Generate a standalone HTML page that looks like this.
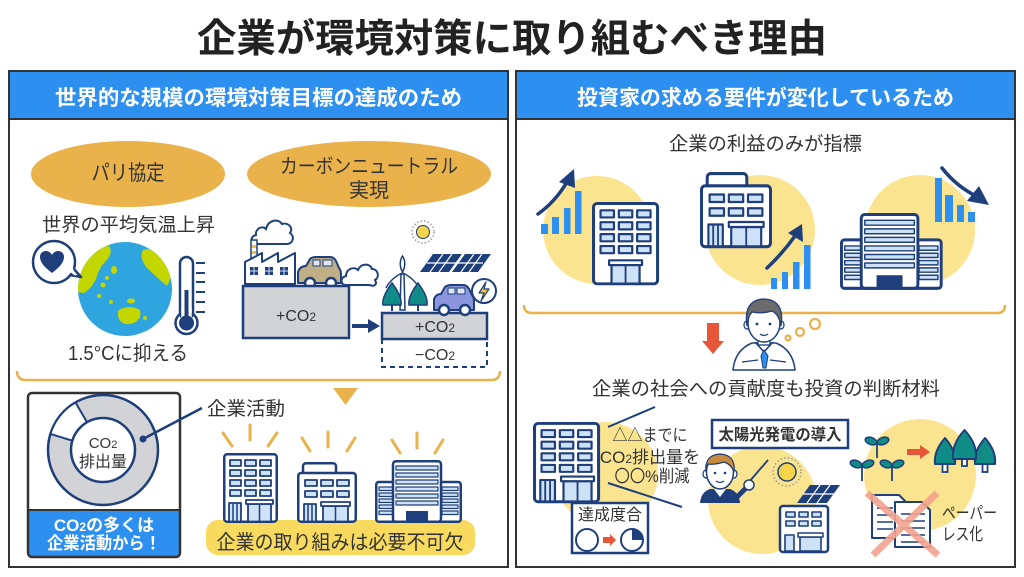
<!DOCTYPE html>
<html><head><meta charset="utf-8">
<style>
html,body{margin:0;padding:0;background:#fff;}
svg{display:block;font-family:"Liberation Sans","Noto Sans CJK JP",sans-serif;}
</style></head><body>
<svg width="1024" height="577" viewBox="0 0 1024 577" xmlns="http://www.w3.org/2000/svg">
<defs>
 <g id="bA" stroke="#1e3f7b" stroke-linejoin="round">
  <rect x="1.25" y="1.25" width="52.5" height="67.5" rx="3" fill="#fff" stroke-width="2.5"/>
  <g fill="#cde1f7" stroke-width="1.8">
   <rect x="7" y="7" width="11" height="6"/><rect x="22" y="7" width="11" height="6"/><rect x="37" y="7" width="11" height="6"/>
   <rect x="7" y="17" width="11" height="6"/><rect x="22" y="17" width="11" height="6"/><rect x="37" y="17" width="11" height="6"/>
   <rect x="7" y="27" width="11" height="6"/><rect x="22" y="27" width="11" height="6"/><rect x="37" y="27" width="11" height="6"/>
   <rect x="7" y="37" width="11" height="6"/><rect x="22" y="37" width="11" height="6"/><rect x="37" y="37" width="11" height="6"/>
   <rect x="6" y="50" width="12" height="18.5"/>
   <rect x="25" y="51" width="23" height="17.5"/>
  </g>
  <line x1="10" y1="50" x2="10" y2="68" stroke-width="1.5"/><line x1="14" y1="50" x2="14" y2="68" stroke-width="1.5"/>
  <rect x="23" y="47" width="27" height="4" fill="#fff" stroke-width="1.8"/>
  <line x1="36.5" y1="51" x2="36.5" y2="68.5" stroke-width="1.5"/>
 </g>
 <g id="bA2" stroke="#1e3f7b" stroke-linejoin="round">
  <rect x="1.25" y="1.25" width="52.5" height="67.5" rx="3" fill="#fff" stroke-width="2.5"/>
  <g fill="#cde1f7" stroke-width="1.8">
   <rect x="7" y="7" width="11" height="6"/><rect x="22" y="7" width="11" height="6"/><rect x="37" y="7" width="11" height="6"/>
   <rect x="7" y="17" width="11" height="6"/><rect x="22" y="17" width="11" height="6"/><rect x="37" y="17" width="11" height="6"/>
   <rect x="7" y="27" width="11" height="6"/><rect x="22" y="27" width="11" height="6"/><rect x="37" y="27" width="11" height="6"/>
   <rect x="7" y="37" width="11" height="6"/><rect x="22" y="37" width="11" height="6"/><rect x="37" y="37" width="11" height="6"/>
   <rect x="16" y="53" width="23" height="15.5"/>
  </g>
  <rect x="14" y="49" width="27" height="4" fill="#fff" stroke-width="1.8"/>
  <line x1="27.5" y1="53" x2="27.5" y2="68.5" stroke-width="1.5"/>
 </g>
 <g id="bB" stroke="#1e3f7b" stroke-linejoin="round">
  <rect x="6" y="1.25" width="33" height="14" rx="3" fill="#fff" stroke-width="2.5"/>
  <rect x="1.25" y="11" width="57.5" height="48.75" rx="3" fill="#fff" stroke-width="2.5"/>
  <g fill="#cde1f7" stroke-width="1.8">
   <rect x="8" y="18" width="12" height="6"/><rect x="24" y="18" width="12" height="6"/><rect x="40" y="18" width="12" height="6"/>
   <rect x="8" y="29" width="12" height="6"/><rect x="24" y="29" width="12" height="6"/><rect x="40" y="29" width="12" height="6"/>
   <rect x="7" y="42" width="12" height="17.5"/>
   <rect x="26" y="44" width="25" height="15.5"/>
  </g>
  <line x1="11" y1="42" x2="11" y2="59" stroke-width="1.5"/><line x1="15" y1="42" x2="15" y2="59" stroke-width="1.5"/>
  <rect x="24" y="40" width="29" height="4" fill="#fff" stroke-width="1.8"/>
  <line x1="38.5" y1="44" x2="38.5" y2="59.5" stroke-width="1.5"/>
 </g>
 <g id="bC" stroke="#1e3f7b" stroke-linejoin="round">
  <rect x="1.25" y="22" width="84.5" height="39.75" rx="2.5" fill="#fff" stroke-width="2.5"/>
  <g fill="#cde1f7" stroke-width="1.2">
   <rect x="4" y="27" width="14" height="3.5"/><rect x="4" y="33" width="14" height="3.5"/><rect x="4" y="39" width="14" height="3.5"/><rect x="4" y="45" width="14" height="3.5"/><rect x="4" y="51" width="14" height="3.5"/>
   <rect x="67" y="27" width="16" height="3.5"/><rect x="67" y="33" width="16" height="3.5"/><rect x="67" y="39" width="16" height="3.5"/><rect x="67" y="45" width="16" height="3.5"/><rect x="67" y="51" width="16" height="3.5"/>
  </g>
  <rect x="18" y="1.25" width="48" height="60.5" rx="3" fill="#fff" stroke-width="2.5"/>
  <g fill="#cde1f7" stroke-width="1.2">
   <rect x="21" y="6" width="42" height="4"/><rect x="21" y="13" width="42" height="4"/><rect x="21" y="20" width="42" height="4"/><rect x="21" y="27" width="42" height="4"/><rect x="21" y="34" width="42" height="4"/><rect x="21" y="41" width="42" height="4"/>
  </g>
  <rect x="31" y="51" width="22" height="10.5" fill="#1e3f7b" stroke="none"/>
 </g>
 <clipPath id="globeClip"><circle cx="125" cy="289" r="47"/></clipPath>
</defs>

<!-- Title -->
<text x="512" y="52" font-size="39" font-weight="bold" fill="#222" text-anchor="middle" textLength="630" lengthAdjust="spacingAndGlyphs">企業が環境対策に取り組むべき理由</text>

<!-- Panels -->
<rect x="9" y="71" width="499" height="496" fill="#fff" stroke="#333" stroke-width="2"/>
<rect x="10" y="72" width="497" height="46" fill="#2d8ff0"/>
<line x1="9" y1="119" x2="508" y2="119" stroke="#333" stroke-width="2"/>
<text x="258.5" y="105" font-size="21" font-weight="bold" fill="#fff" text-anchor="middle" textLength="407" lengthAdjust="spacingAndGlyphs">世界的な規模の環境対策目標の達成のため</text>

<rect x="516" y="71" width="499" height="496" fill="#fff" stroke="#333" stroke-width="2"/>
<rect x="517" y="72" width="497" height="46" fill="#2d8ff0"/>
<line x1="516" y1="119" x2="1015" y2="119" stroke="#333" stroke-width="2"/>
<text x="765.5" y="105" font-size="21" font-weight="bold" fill="#fff" text-anchor="middle" textLength="377" lengthAdjust="spacingAndGlyphs">投資家の求める要件が変化しているため</text>

<!-- Left panel top -->
<ellipse cx="128" cy="174" rx="97" ry="33" fill="#e9b24b"/>
<text x="128" y="180" font-size="21" fill="#333" text-anchor="middle" textLength="73" lengthAdjust="spacingAndGlyphs">パリ協定</text>
<ellipse cx="369" cy="174" rx="122" ry="33" fill="#e9b24b"/>
<text x="369" y="173" font-size="20" fill="#333" text-anchor="middle" textLength="178" lengthAdjust="spacingAndGlyphs">カーボンニュートラル</text>
<text x="369" y="197" font-size="20" fill="#333" text-anchor="middle">実現</text>

<text x="128.5" y="231" font-size="19" fill="#333" text-anchor="middle" textLength="173" lengthAdjust="spacingAndGlyphs">世界の平均気温上昇</text>

<!-- Globe -->
<circle cx="125" cy="289" r="47" fill="#2ea5de"/>
<g clip-path="url(#globeClip)" fill="#c4d600">
 <path d="M76,276 C80,262 88,252 100,247 L109,246 C113,252 109,258 105,262 C101,266 99,270 97,276 C95,283 90,289 84,293 L76,292 Z"/>
 <path d="M143,250 C150,247 162,252 170,263 C173,271 171,280 167,286 C160,280 152,273 146,267 C142,261 140,255 143,250 Z"/>
 <path d="M118,311 C124,306 134,306 140,310 C142,316 138,323 130,324 C122,325 117,320 118,311 Z"/>
 <ellipse cx="114" cy="270" rx="3" ry="4"/><circle cx="107" cy="278" r="2"/><circle cx="103" cy="285" r="2.5"/><circle cx="111" cy="302" r="2"/><ellipse cx="131" cy="301" rx="4" ry="2.5"/><circle cx="145" cy="318" r="2"/><circle cx="99" cy="296" r="2"/>
</g>
<!-- Heart bubble -->
<path d="M70,275 L81,277 L73,268" fill="#fff" stroke="#1e3f7b" stroke-width="2.5" stroke-linejoin="round"/>
<circle cx="54" cy="262" r="21" fill="#fff" stroke="#1e3f7b" stroke-width="2.5"/>
<path d="M70,272 L76,276 L72,266 Z" fill="#fff"/>
<path d="M52,273 C44,267 40,262 40,257 C40,253 43,251 46,251 C49,251 51,253 52,255 C53,253 55,251 58,251 C61,251 64,253 64,257 C64,262 60,267 52,273 Z" fill="#1e3f7b"/>
<!-- Thermometer -->
<circle cx="186.5" cy="323" r="11" fill="#fff" stroke="#1e3f7b" stroke-width="2.5"/>
<rect x="180" y="257" width="13" height="62" rx="6.5" fill="#fff" stroke="#1e3f7b" stroke-width="2.5"/>
<rect x="181.3" y="308" width="10.4" height="12" fill="#fff"/>
<rect x="184.5" y="290" width="4" height="30" fill="#1e3f7b"/>
<circle cx="186.5" cy="323" r="7.5" fill="#1e3f7b"/>
<g stroke="#1e3f7b" stroke-width="2">
 <line x1="196" y1="263" x2="205" y2="263"/><line x1="196" y1="273" x2="205" y2="273"/><line x1="196" y1="282" x2="205" y2="282"/><line x1="196" y1="292" x2="205" y2="292"/><line x1="196" y1="302" x2="205" y2="302"/><line x1="196" y1="312" x2="205" y2="312"/>
</g>
<text x="128" y="360" font-size="20" fill="#333" text-anchor="middle" textLength="120" lengthAdjust="spacingAndGlyphs">1.5°Cに抑える</text>

<!-- Factory scene -->
<path d="M256,244 C250,244 250,236 256,235 C255,229 262,225 266,229 C268,220 278,218 282,224 C288,222 294,228 290,233 C295,236 293,244 287,244 Z" fill="#fff" stroke="#1e3f7b" stroke-width="2"/>
<rect x="251" y="240" width="6" height="20" fill="#fff" stroke="#1e3f7b" stroke-width="1.5"/>
<rect x="252" y="245" width="4" height="3" fill="#f0c040"/><rect x="252" y="251" width="4" height="3" fill="#f0c040"/>
<path d="M245,284 L245,262 L262,253 L262,262 L278,253 L278,262 L295,253 L295,284 Z" fill="#fff" stroke="#1e3f7b" stroke-width="2" stroke-linejoin="round"/>
<g fill="#1e3f7b"><rect x="250" y="267" width="8" height="8"/><rect x="265" y="267" width="8" height="8"/><rect x="280" y="267" width="8" height="8"/></g>
<g stroke="#cde1f7" stroke-width="1"><line x1="254" y1="267" x2="254" y2="275"/><line x1="250" y1="271" x2="258" y2="271"/><line x1="269" y1="267" x2="269" y2="275"/><line x1="265" y1="271" x2="273" y2="271"/><line x1="284" y1="267" x2="284" y2="275"/><line x1="280" y1="271" x2="288" y2="271"/></g>
<path d="M298,283 L298,272 Q300,266 306,266 L310,259 Q312,257 316,257 L330,257 Q334,257 336,261 L339,268 Q341,270 341,275 L341,283 Z" fill="#bfae86" stroke="#1e3f7b" stroke-width="2" stroke-linejoin="round"/>
<rect x="313" y="260" width="7" height="6" fill="#dfe6ef" stroke="#1e3f7b" stroke-width="1"/><rect x="323" y="260" width="9" height="6" fill="#dfe6ef" stroke="#1e3f7b" stroke-width="1"/>
<circle cx="310" cy="283" r="5" fill="#fff" stroke="#1e3f7b" stroke-width="2.5"/><circle cx="331" cy="283" r="5" fill="#fff" stroke="#1e3f7b" stroke-width="2.5"/>
<path d="M346,285 C340,285 340,277 346,276 C346,269 354,266 358,270 C361,263 370,263 372,269 C378,269 380,277 375,280 C378,285 373,287 370,285 Z" fill="#fff" stroke="#1e3f7b" stroke-width="2"/>
<rect x="243" y="286" width="106" height="52" fill="#d2d3d5" stroke="#1e3f7b" stroke-width="2.5"/>
<text x="296" y="321" font-size="16" fill="#333" text-anchor="middle">+CO<tspan font-size="12">2</tspan></text>
<line x1="352" y1="326" x2="370" y2="326" stroke="#1e3f7b" stroke-width="4"/>
<polygon points="368,319 380,326 368,333" fill="#1e3f7b"/>
<rect x="382" y="313" width="105" height="26" fill="#d2d3d5" stroke="#1e3f7b" stroke-width="2.5"/>
<text x="435" y="332" font-size="16" fill="#333" text-anchor="middle">+CO<tspan font-size="12">2</tspan></text>
<path d="M382,339 L382,367 L487,367 L487,339" fill="none" stroke="#1e3f7b" stroke-width="2" stroke-dasharray="5,4"/>
<text x="435" y="360" font-size="16" fill="#333" text-anchor="middle">−CO<tspan font-size="12">2</tspan></text>
<!-- sun & panels -->
<circle cx="423" cy="232" r="11" fill="none" stroke="#999" stroke-width="1.5" stroke-dasharray="1.5,2"/>
<circle cx="423" cy="232" r="6.5" fill="#f7d54a" stroke="#1e3f7b" stroke-width="1"/>
<polygon points="420,272 433,254 462,254 449,272" fill="#1e3f7b"/>
<polygon points="452,272 465,254 491,254 478,272" fill="#1e3f7b"/>
<g stroke="#fff" stroke-width="1.2">
 <line x1="427" y1="263" x2="483" y2="263"/>
 <line x1="430" y1="272" x2="443" y2="254"/><line x1="439" y1="272" x2="452" y2="254"/>
 <line x1="461" y1="272" x2="474" y2="254"/><line x1="469" y1="272" x2="482" y2="254"/>
 <line x1="450" y1="272" x2="463" y2="254"/>
</g>
<!-- windmill -->
<path d="M400,310 L401,274 L404,274 L405,310 Z" fill="#fff" stroke="#1e3f7b" stroke-width="1.5"/>
<path d="M402.5,272 C399,266 400,260 402.5,256 C405,260 406,266 402.5,272 Z" fill="#fff" stroke="#1e3f7b" stroke-width="1.5"/>
<path d="M402,273 C396,276 390,280 386,288" fill="none" stroke="#1e3f7b" stroke-width="1.5"/>
<path d="M403,273 C409,276 415,280 419,288" fill="none" stroke="#1e3f7b" stroke-width="1.5"/>
<path d="M392,283 C386,291 382,299 383,305 L401,305 C402,299 398,291 392,283 Z" fill="#0f8c86" stroke="#1e3f7b" stroke-width="1.5"/>
<line x1="392" y1="305" x2="392" y2="311" stroke="#1e3f7b" stroke-width="2"/>
<path d="M418,283 C412,291 408,299 409,305 L427,305 C428,299 424,291 418,283 Z" fill="#0f8c86" stroke="#1e3f7b" stroke-width="1.5"/>
<line x1="418" y1="305" x2="418" y2="311" stroke="#1e3f7b" stroke-width="2"/>
<!-- EV -->
<path d="M434,310 L434,299 Q436,294 441,294 L445,287 Q447,285 451,285 L463,285 Q467,285 469,289 L472,295 Q474,297 474,302 L474,310 Z" fill="#8b96de" stroke="#1e3f7b" stroke-width="2" stroke-linejoin="round"/>
<rect x="448" y="288" width="7" height="6" fill="#dfe6ef" stroke="#1e3f7b" stroke-width="1"/><rect x="457" y="288" width="8" height="6" fill="#dfe6ef" stroke="#1e3f7b" stroke-width="1"/>
<circle cx="444" cy="310" r="5" fill="#fff" stroke="#1e3f7b" stroke-width="2.5"/><circle cx="465" cy="310" r="5" fill="#fff" stroke="#1e3f7b" stroke-width="2.5"/>
<circle cx="484" cy="291" r="12" fill="#fff" stroke="#1e3f7b" stroke-width="2"/>
<path d="M486,282 L479,293 L484,293 L481,301 L489,289 L484,289 Z" fill="#f0c040" stroke="#1e3f7b" stroke-width="1.2" stroke-linejoin="round"/>

<!-- Left bracket -->
<path d="M17,371 Q17,380 26,380 L491,380 Q500,380 500,371" fill="none" stroke="#e9b24b" stroke-width="2.5"/>
<polygon points="333,388 358,388 345.5,405" fill="#e9b24b"/>

<!-- CO2 box -->
<path d="M28,510 L180,510 L180,553 Q180,557 176,557 L32,557 Q28,557 28,553 Z" fill="#2d8ff0"/>
<rect x="28" y="393" width="152" height="164" rx="4" fill="none" stroke="#333" stroke-width="2.5"/>
<line x1="28" y1="510" x2="180" y2="510" stroke="#333" stroke-width="2"/>
<circle cx="103" cy="450" r="55" fill="#d2d3d6" stroke="#1e3f7b" stroke-width="2.5"/>
<path d="M50.4,433.9 A55,55 0 0,1 75.5,402.4 L87,422.3 A32,32 0 0,0 72.4,440.7 Z" fill="#fff" stroke="#1e3f7b" stroke-width="2" stroke-linejoin="round"/>
<circle cx="103" cy="450" r="32" fill="#fff" stroke="#1e3f7b" stroke-width="2.5"/>
<text x="103" y="448" font-size="15" fill="#333" text-anchor="middle">CO<tspan font-size="11">2</tspan></text>
<text x="103" y="467" font-size="16" fill="#333" text-anchor="middle">排出量</text>
<line x1="143" y1="439" x2="202" y2="408" stroke="#1e3f7b" stroke-width="2.5"/>
<circle cx="143" cy="439" r="3.5" fill="#1e3f7b"/>
<text x="207" y="415" font-size="19" fill="#333" textLength="78" lengthAdjust="spacingAndGlyphs">企業活動</text>
<text x="104" y="531" font-size="17" font-weight="bold" fill="#fff" text-anchor="middle">CO<tspan font-size="12">2</tspan>の多くは</text>
<text x="104" y="549" font-size="17" font-weight="bold" fill="#fff" text-anchor="middle" textLength="114" lengthAdjust="spacingAndGlyphs">企業活動から！</text>

<!-- Buildings left -->
<rect x="206" y="520" width="269" height="35" rx="12" fill="#f8da5e"/>
<g stroke="#e9b24b" stroke-width="3" stroke-linecap="round">
 <line x1="223" y1="433" x2="232" y2="446"/><line x1="250" y1="425" x2="250" y2="440"/><line x1="277" y1="433" x2="268" y2="446"/>
 <line x1="302" y1="438" x2="310" y2="451"/><line x1="328" y1="432" x2="328" y2="447"/><line x1="355" y1="438" x2="347" y2="451"/>
 <line x1="392" y1="440" x2="400" y2="453"/><line x1="417" y1="433" x2="417" y2="448"/><line x1="443" y1="440" x2="435" y2="453"/>
</g>
<use href="#bA" transform="translate(223,453)"/>
<use href="#bB" transform="translate(297,462)"/>
<use href="#bC" transform="translate(375,460)"/>
<text x="340" y="549" font-size="20" fill="#333" text-anchor="middle" textLength="247" lengthAdjust="spacingAndGlyphs">企業の取り組みは必要不可欠</text>

<!-- Right panel top -->
<text x="765.5" y="150" font-size="19" fill="#333" text-anchor="middle" textLength="193" lengthAdjust="spacingAndGlyphs">企業の利益のみが指標</text>
<circle cx="597" cy="230" r="54" fill="#fbe48f"/>
<circle cx="760" cy="230" r="55" fill="#fbe48f"/>
<circle cx="920" cy="230" r="55" fill="#fbe48f"/>
<g fill="#2d8ff0">
 <rect x="541" y="224" width="7" height="10"/><rect x="552" y="217" width="7" height="17"/><rect x="564" y="208" width="6.5" height="26"/><rect x="575" y="191" width="6.5" height="43"/>
 <rect x="771" y="278" width="6" height="11"/><rect x="782" y="272" width="6" height="17"/><rect x="793" y="262" width="6.5" height="27"/><rect x="804" y="245" width="6.5" height="44"/>
 <rect x="935" y="178" width="7" height="44"/><rect x="945" y="195" width="8" height="27"/><rect x="957" y="205" width="7" height="17"/><rect x="968" y="212" width="7" height="10"/>
</g>
<use href="#bA2" transform="translate(592,202) scale(1.22,1.19)"/>
<use href="#bB" transform="translate(700,172) scale(1.2,1.25)"/>
<use href="#bC" transform="translate(840,213) scale(1.18,1.22)"/>
<g fill="none" stroke="#1e3f7b" stroke-width="3.5" stroke-linecap="round">
 <path d="M538,214 Q555,202 567,182"/>
 <path d="M767,268 Q782,254 795,236"/>
 <path d="M942,168 Q956,186 976,196"/>
</g>
<g fill="#1e3f7b">
 <polygon points="574,169 559,182 575,188"/>
 <polygon points="802,224 788,233 803,242"/>
 <polygon points="989,205 979,186 967,201"/>
</g>

<!-- Right bracket & investor -->
<path d="M524,305 Q524,313 532,313 L997,313 Q1005,313 1005,305" fill="none" stroke="#e9b24b" stroke-width="2.5"/>
<polygon points="707,323 719,323 719,341 724,341 713,354 702,341 707,341" fill="#e8563a"/>
<path d="M733,370 Q735,350 752,343 L776,343 Q793,350 795,370 Z" fill="#fff" stroke="#1e3f7b" stroke-width="1.5" stroke-linejoin="round"/>
<path d="M755,342 L764,352 L773,342" fill="none" stroke="#1e3f7b" stroke-width="1.5"/>
<polygon points="764,350 761,356 763,368 766,368 768,356" fill="#2d8ff0" stroke="#1e3f7b" stroke-width="1"/>
<path d="M742,362 L758,360 M786,362 L770,360" stroke="#1e3f7b" stroke-width="1.3" fill="none"/>
<rect x="758" y="336" width="12" height="9" fill="#fff" stroke="#1e3f7b" stroke-width="1.3"/>
<ellipse cx="747" cy="325" rx="3" ry="4" fill="#fff" stroke="#1e3f7b" stroke-width="1.3"/>
<ellipse cx="781" cy="325" rx="3" ry="4" fill="#fff" stroke="#1e3f7b" stroke-width="1.3"/>
<ellipse cx="764" cy="323" rx="16" ry="19" fill="#fff" stroke="#1e3f7b" stroke-width="1.5"/>
<path d="M747,326 Q743,300 764,299 Q785,300 781,326 Q779,314 772,311 Q762,314 752,312 Q748,316 747,326 Z" fill="#6b6b6b" stroke="#1e3f7b" stroke-width="1.3"/>
<circle cx="757" cy="324" r="1.4" fill="#1e3f7b"/><circle cx="770" cy="324" r="1.4" fill="#1e3f7b"/>
<path d="M760,334 Q764,337 768,334" fill="none" stroke="#1e3f7b" stroke-width="1.3"/>
<g fill="#fff" stroke="#e9b24b" stroke-width="2.2">
 <circle cx="788" cy="338" r="2.5"/><circle cx="800" cy="332" r="4"/><circle cx="815" cy="324" r="5"/>
</g>
<text x="766" y="395" font-size="19" fill="#333" text-anchor="middle" textLength="348" lengthAdjust="spacingAndGlyphs">企業の社会への貢献度も投資の判断材料</text>

<!-- Bottom right -->
<circle cx="606" cy="474" r="52" fill="#fbe48f"/>
<circle cx="762" cy="500" r="54" fill="#fbe48f"/>
<circle cx="920" cy="475" r="56" fill="#fbe48f"/>
<use href="#bA" transform="translate(533,422) scale(1.22,1.16)"/>
<line x1="608" y1="427" x2="655" y2="407" stroke="#1e3f7b" stroke-width="2"/>
<line x1="608" y1="483" x2="682" y2="507" stroke="#1e3f7b" stroke-width="2"/>
<text x="650" y="441" font-size="17" fill="#333" text-anchor="middle" textLength="75" lengthAdjust="spacingAndGlyphs">△△までに</text>
<text x="650" y="463" font-size="17" fill="#333" text-anchor="middle">CO<tspan font-size="12">2</tspan>排出量を</text>
<text x="652" y="482" font-size="17" fill="#333" text-anchor="middle" textLength="75" lengthAdjust="spacingAndGlyphs">〇〇%削減</text>
<rect x="572" y="503" width="76" height="50" fill="#fff" stroke="#1e3f7b" stroke-width="2.5"/>
<text x="610" y="520" font-size="16" fill="#333" text-anchor="middle" textLength="64" lengthAdjust="spacingAndGlyphs">達成度合</text>
<circle cx="587" cy="540" r="11" fill="#fff" stroke="#1e3f7b" stroke-width="2"/>
<polygon points="603,537 610,537 610,534 616,540 610,546 610,543 603,543" fill="#e8563a"/>
<circle cx="632" cy="540" r="11" fill="#fff" stroke="#1e3f7b" stroke-width="2"/>
<path d="M632,540 L632,529 A11,11 0 0,1 643,540 Z" fill="#1e3f7b"/>

<rect x="712" y="420" width="136" height="28" fill="#fff" stroke="#1e3f7b" stroke-width="2.5"/>
<text x="780" y="440" font-size="16" font-weight="bold" fill="#333" text-anchor="middle" textLength="123" lengthAdjust="spacingAndGlyphs">太陽光発電の導入</text>
<!-- teacher -->
<path d="M700,503 Q701,492 710,489 L730,489 Q739,492 740,503 Z" fill="#1e3f7b"/>
<path d="M714,489 L720,497 L726,489 Z" fill="#fff"/>
<ellipse cx="706" cy="474" rx="3" ry="4" fill="#fff" stroke="#1e3f7b" stroke-width="1.3"/>
<ellipse cx="734" cy="474" rx="3" ry="4" fill="#fff" stroke="#1e3f7b" stroke-width="1.3"/>
<ellipse cx="720" cy="472" rx="13.5" ry="17" fill="#fff" stroke="#1e3f7b" stroke-width="1.5"/>
<path d="M706,472 Q704,455 720,454 Q736,455 734,472 Q731,464 724,462 Q714,465 708,464 Q706,467 706,472 Z" fill="#c98a3e" stroke="#1e3f7b" stroke-width="1.2"/>
<circle cx="715" cy="473" r="1.3" fill="#1e3f7b"/><circle cx="725" cy="473" r="1.3" fill="#1e3f7b"/>
<path d="M716,481 Q720,484 724,481" fill="none" stroke="#1e3f7b" stroke-width="1.2"/>
<line x1="749" y1="482" x2="768" y2="460" stroke="#1e3f7b" stroke-width="1.8"/>
<path d="M736,498 L746,488" stroke="#1e3f7b" stroke-width="5" stroke-linecap="round"/>
<circle cx="749" cy="485" r="5" fill="#fff" stroke="#1e3f7b" stroke-width="1.5"/>
<circle cx="787" cy="472" r="14" fill="none" stroke="#999" stroke-width="1.5" stroke-dasharray="1.5,2.2"/>
<circle cx="787" cy="472" r="9" fill="#f7d54a" stroke="#1e3f7b" stroke-width="1.5"/>
<!-- solar building -->
<polygon points="797,503 810,485 840,485 827,503" fill="#1e3f7b"/>
<g stroke="#fff" stroke-width="1.2"><line x1="803" y1="494" x2="834" y2="494"/><line x1="807" y1="503" x2="820" y2="485"/><line x1="817" y1="503" x2="830" y2="485"/></g>
<g stroke="#1e3f7b" stroke-linejoin="round">
 <rect x="780" y="506" width="48" height="46" rx="3" fill="#fff" stroke-width="2.5"/>
 <g fill="#cde1f7" stroke-width="1.6">
  <rect x="786" y="512" width="9" height="5"/><rect x="799" y="512" width="9" height="5"/><rect x="812" y="512" width="9" height="5"/>
  <rect x="786" y="521" width="9" height="5"/><rect x="799" y="521" width="9" height="5"/><rect x="812" y="521" width="9" height="5"/>
  <rect x="785" y="535" width="9" height="16"/><rect x="800" y="537" width="21" height="14"/>
 </g>
 <rect x="798" y="533" width="25" height="4" fill="#fff" stroke-width="1.5"/>
</g>
<!-- sprouts -->
<g stroke="#1e3f7b" stroke-width="1.8">
 <line x1="877" y1="444" x2="877" y2="458"/><line x1="862" y1="467" x2="862" y2="481"/><line x1="892" y1="467" x2="892" y2="481"/>
</g>
<g fill="#0f8c86" stroke="#1e3f7b" stroke-width="1.5">
 <ellipse cx="871" cy="441" rx="6" ry="3.5" transform="rotate(20 871 441)"/><ellipse cx="883" cy="441" rx="6" ry="3.5" transform="rotate(-20 883 441)"/>
 <ellipse cx="856" cy="464" rx="6" ry="3.5" transform="rotate(20 856 464)"/><ellipse cx="868" cy="464" rx="6" ry="3.5" transform="rotate(-20 868 464)"/>
 <ellipse cx="886" cy="464" rx="6" ry="3.5" transform="rotate(20 886 464)"/><ellipse cx="898" cy="464" rx="6" ry="3.5" transform="rotate(-20 898 464)"/>
</g>
<polygon points="907,449 920,449 920,445 930,452 920,459 920,455 907,455" fill="#e8563a"/>
<!-- trees -->
<g stroke="#1e3f7b" stroke-width="1.8" fill="#fff">
 <rect x="942.5" y="462" width="5" height="10"/><rect x="962" y="457" width="5" height="9"/><rect x="982.5" y="462" width="5" height="10"/>
</g>
<g fill="#0f8c86" stroke="#1e3f7b" stroke-width="2" stroke-linejoin="round">
 <path d="M945,438 C938,446 934,455 935,464 L955,464 C956,455 952,446 945,438 Z"/>
 <path d="M985,438 C978,446 974,455 975,464 L995,464 C996,455 992,446 985,438 Z"/>
 <path d="M964.5,430 C957,438 952,448 953,459 L976,459 C977,448 972,438 964.5,430 Z"/>
</g>
<!-- documents -->
<path d="M872,495 L899,495 L907,503 L907,538 L872,538 Z" fill="#fff" stroke="#1e3f7b" stroke-width="2" stroke-linejoin="round"/>
<g stroke="#1e3f7b" stroke-width="1.5"><line x1="877" y1="508" x2="893" y2="508"/><line x1="877" y1="515" x2="893" y2="515"/><line x1="877" y1="522" x2="893" y2="522"/><line x1="877" y1="529" x2="893" y2="529"/></g>
<path d="M895,502 L922,502 L930,510 L930,547 L895,547 Z" fill="#fff" stroke="#1e3f7b" stroke-width="2" stroke-linejoin="round"/>
<g stroke="#1e3f7b" stroke-width="1.5"><line x1="901" y1="514" x2="925" y2="514"/><line x1="901" y1="521" x2="925" y2="521"/><line x1="901" y1="528" x2="925" y2="528"/><line x1="901" y1="535" x2="925" y2="535"/><line x1="901" y1="542" x2="925" y2="542"/></g>
<g stroke="#f4a38e" stroke-width="7" stroke-linecap="butt" opacity="0.9">
 <line x1="867" y1="493" x2="938" y2="555"/><line x1="937" y1="493" x2="873" y2="555"/>
</g>
<text x="942" y="519" font-size="17" fill="#333" textLength="55" lengthAdjust="spacingAndGlyphs">ペーパー</text>
<text x="942" y="540" font-size="17" fill="#333" textLength="41" lengthAdjust="spacingAndGlyphs">レス化</text>
</svg>
</body></html>
